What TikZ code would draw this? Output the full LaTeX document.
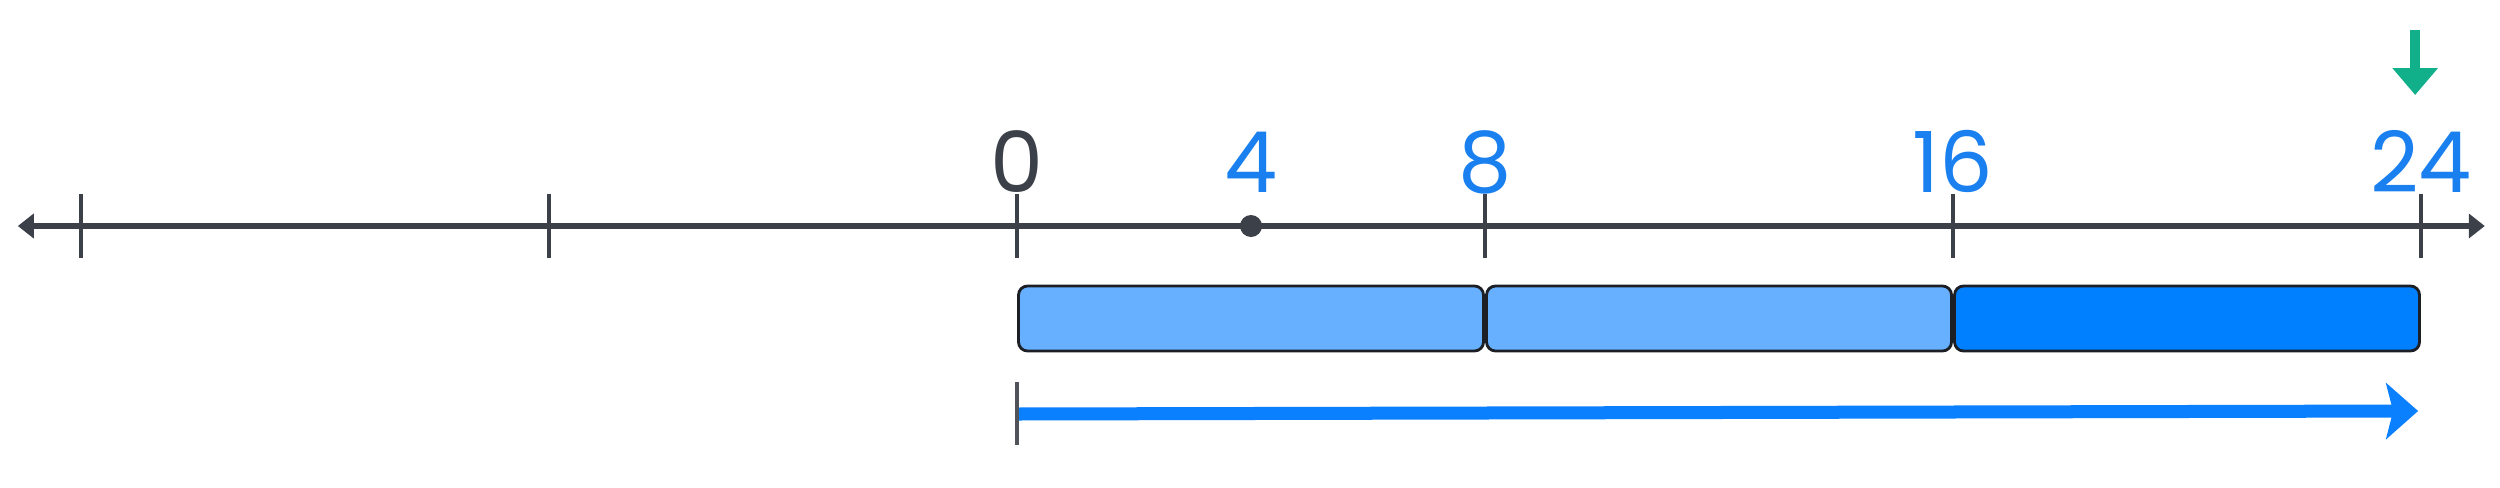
\documentclass[tikz,border=0pt]{standalone}
\usepackage{fontspec}
\setmainfont{Poppins}
\usetikzlibrary{arrows.meta,positioning}

\definecolor{axisgray}{HTML}{3C4048}
\definecolor{numblue}{HTML}{1A80F0}
\definecolor{barlight}{HTML}{66B0FF}
\definecolor{bardark}{HTML}{0080FF}
\definecolor{jumpblue}{HTML}{0A80FF}
\definecolor{markgreen}{HTML}{12B08A}
\definecolor{baredge}{HTML}{1C1F26}

\tikzset{
  axisline/.style={axisgray,line width=1.6pt},
  ticksym/.style={axisgray,line width=1.3pt},
  numlabel/.style={anchor=base,inner sep=0pt,font=\fontsize{24}{28}\selectfont},
  barpart/.style={draw=baredge,line width=0.8pt,rounded corners=0.09cm,
    minimum width=4.65cm,minimum height=0.65cm,inner sep=0pt,outer sep=0pt},
}

\begin{document}
\begin{tikzpicture}[x=0.585cm,y=1cm]
\useasboundingbox (-17.385,-2.61) rectangle (25.35,2.26);

% Number line with arrow tips at both ends.
\coordinate (axL) at (-17.08,0);
\coordinate (axR) at (25.09,0);
\draw[axisline,{Triangle[length=0.16cm,width=0.24cm]}-{Triangle[length=0.16cm,width=0.24cm]}]
  (axL) -- (axR);

% Ticks every 8 units.
\foreach \k in {-16,-8,0,8,16,24}
  \draw[ticksym] (\k,0) ++(0,0.32) -- ++(0,-0.64);

% Labels above the ticks; the 4 gets a dot instead of a tick.
\node[numlabel,axisgray] (n0) at (0,0.34) {0};
\foreach \v in {4,8,16,24}
  \node[numlabel,numblue] (n\v) at (\v,0.34) {\v};
\fill[axisgray] (4,0) circle (0.11cm);

% Green marker pointing down at 24.
\coordinate (markTop) at (23.90,1.96);
\coordinate (markTip) at (23.90,1.31);
\draw[markgreen,line width=2.7pt,-{Triangle[length=0.27cm,width=0.44cm]}]
  (markTop) -- (markTip);

% Three jumps of 8 as bars.
\node[barpart,fill=barlight] (bar1) at (4,-0.925) {};
\node[barpart,fill=barlight] (bar2) at (12,-0.925) {};
\node[barpart,fill=bardark]  (bar3) at (20,-0.925) {};

% Long arrow from 0 to 24.
\coordinate (jumpStart) at (0,-1.88);
\coordinate (jumpEnd) at (23.95,-1.85);
\draw[jumpblue,line width=3.7pt,-{Stealth[length=0.32cm,width=0.56cm,inset=0.07cm]}]
  (jumpStart) -- (jumpEnd);
\draw[axisgray!90,line width=0.9pt] (0,-1.56) -- (0,-2.19);

\end{tikzpicture}
\end{document}
